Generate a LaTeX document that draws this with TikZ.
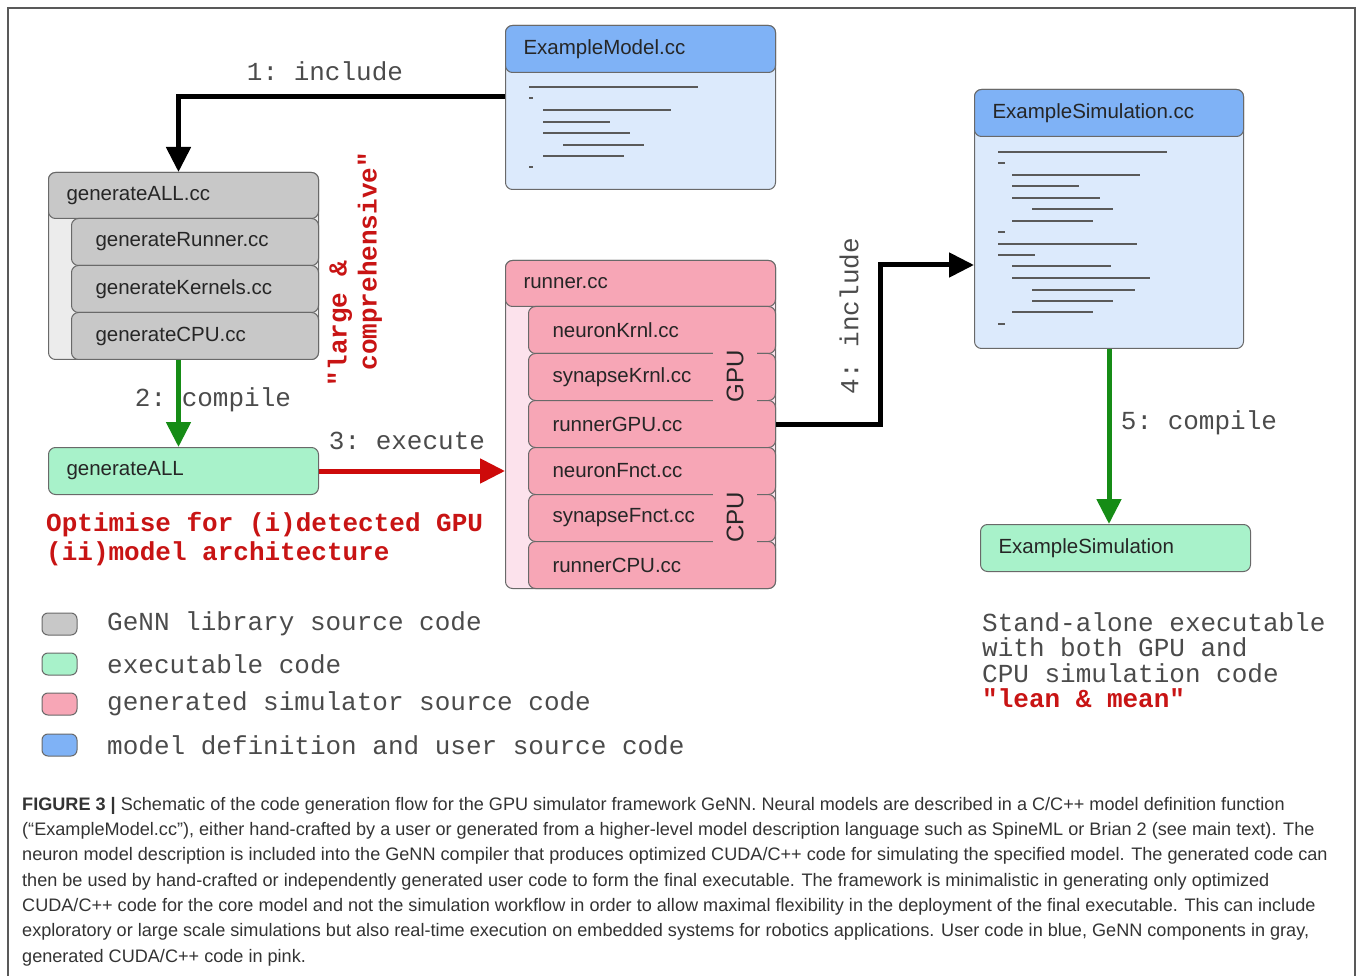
\documentclass[tikz,border=0pt]{standalone}
\usepackage{fontspec}
\setmainfont{Liberation Sans}
\setmonofont{Liberation Mono}
\usetikzlibrary{arrows.meta}

\definecolor{blueHead}{RGB}{127,178,246}
\definecolor{blueBody}{RGB}{220,234,252}
\definecolor{grayHead}{RGB}{200,200,200}
\definecolor{grayBody}{RGB}{236,236,236}
\definecolor{pinkHead}{RGB}{247,166,182}
\definecolor{pinkBody}{RGB}{252,226,236}
\definecolor{mintBox}{RGB}{168,242,202}
\definecolor{edgeGray}{RGB}{105,105,105}
\definecolor{codeGray}{RGB}{90,90,90}
\definecolor{arrowGreen}{RGB}{22,140,22}
\definecolor{arrowRed}{RGB}{205,10,10}
\definecolor{textRed}{RGB}{200,20,20}
\definecolor{monoGray}{RGB}{75,75,75}

\newcommand{\boxfont}{\fontsize{20.5}{24}\selectfont}
\newcommand{\monofont}{\fontsize{26}{26}\selectfont\ttfamily}
\newcommand{\capfont}{\fontsize{18.1}{25.3}\selectfont}

\begin{document}
\begin{tikzpicture}[x=1pt, y=-1pt,
    filebox/.style={draw=edgeGray, line width=1pt, rounded corners=7pt, anchor=north west,
        inner ysep=0pt, minimum height=47pt, align=left, font=\boxfont, text=black!85},
    headbox/.style={filebox, inner xsep=18pt, text width=234pt},
    subbox/.style={filebox, inner xsep=24pt, text width=199pt},
    bodybox/.style={draw=edgeGray, line width=1pt, rounded corners=7pt, anchor=north west,
        inner sep=0pt, minimum width=270pt},
    codeline/.style={codeGray, line width=2.8pt},
    flow/.style={line width=5pt, -{Triangle[length=25pt,width=24pt]}},
    steplabel/.style={font=\monofont, text=monoGray},
    sidelabel/.style={font=\fontsize{24}{24}\selectfont, text=black!85, fill=pinkHead,
        inner xsep=2pt, inner ysep=0pt, minimum height=44pt, rotate=90},
    legbox/.style={draw=edgeGray, line width=1pt, rounded corners=6pt, minimum width=35pt,
        minimum height=22pt, inner sep=0pt}]

    \useasboundingbox (0,0) rectangle (1358,976);

    % figure frame
    \draw[gray!70!black, line width=1.2pt] (8,976) -- (8,8) -- (1355,8) -- (1355,976);

    % model definition file
    \node[bodybox, fill=blueBody, minimum height=164pt] (modelfile) at (505,25) {};
    \node[headbox, fill=blueHead] (modelhead) at (505,25) {ExampleModel.cc};
    \foreach \xa/\xb/\yy in {529/698/87, 529/533/98, 543/671/110, 543/610/122,
                             543/630/133, 563/644/145, 543/624/156, 529/533/167} {
        \draw[codeline] (\xa,\yy) -- (\xb,\yy);
    }

    % user simulation file
    \node[bodybox, fill=blueBody, minimum width=269pt, minimum height=259pt] (simfile) at (974,89) {};
    \node[headbox, fill=blueHead, text width=233pt] (simhead) at (974,89) {ExampleSimulation.cc};
    \foreach \xa/\xb/\yy in {998/1167/152, 998/1005/163, 1012/1140/175, 1012/1079/186,
                             1012/1100/198, 1032/1113/209, 1012/1093/221, 998/1005/232,
                             998/1137/244, 998/1035/255, 1012/1111/266, 1012/1150/278,
                             1032/1135/290, 1032/1113/301, 1012/1093/312, 998/1005/324} {
        \draw[codeline] (\xa,\yy) -- (\xb,\yy);
    }

    % GeNN generator sources
    \node[bodybox, fill=grayBody, minimum height=187pt] (genall) at (48,172) {};
    \node[headbox, fill=grayHead, minimum height=46pt] (genhead) at (48,172) {generateALL.cc};
    \node[subbox, fill=grayHead] (genrunner) at (71,218) {generateRunner.cc};
    \node[subbox, fill=grayHead] (genkernels) at (71,265) {generateKernels.cc};
    \node[subbox, fill=grayHead] (gencpu) at (71,312) {generateCPU.cc};

    % compiled generator
    \node[headbox, fill=mintBox] (genexe) at (48,447) {generateALL};

    % generated runner sources
    \node[bodybox, fill=pinkBody, minimum height=328pt] (runner) at (505,260) {};
    \node[headbox, fill=pinkHead, minimum height=46pt] (runnerhead) at (505,260) {runner.cc};
    \node[subbox, fill=pinkHead] (nkrnl) at (528,306) {neuronKrnl.cc};
    \node[subbox, fill=pinkHead] (skrnl) at (528,353) {synapseKrnl.cc};
    \node[subbox, fill=pinkHead] (rgpu) at (528,400) {runnerGPU.cc};
    \node[subbox, fill=pinkHead] (nfnct) at (528,447) {neuronFnct.cc};
    \node[subbox, fill=pinkHead] (sfnct) at (528,494) {synapseFnct.cc};
    \node[subbox, fill=pinkHead] (rcpu) at (528,541) {runnerCPU.cc};
    \node[sidelabel] (gpulabel) at (735,376) {GPU};
    \node[sidelabel] (cpulabel) at (735,517) {CPU};

    % final executable
    \node[headbox, fill=mintBox] (simexe) at (980,524) {ExampleSimulation};

    % flow arrows
    \draw[flow, black] (modelhead.south west) ++(0,24) -| ([xshift=-5pt]genhead.north);
    \draw[flow, arrowGreen] ([xshift=-5pt]genall.south) -- ([xshift=-5pt]genexe.north);
    \draw[flow, arrowRed] (genexe.east) -- (genexe.east -| runner.west);
    \coordinate (bend4) at (880,265);
    \draw[flow, black] (rgpu.east) -| (bend4) -- (simfile.west |- bend4);
    \draw[flow, arrowGreen] (simfile.south) -- (simfile.south |- simexe.north);

    % step labels
    \node[steplabel] (lbl1) at (325,71) {1: include};
    \node[steplabel] (lbl2) at (213,400) {2: compile};
    \node[steplabel] (lbl3) at (407,441) {3: execute};
    \node[steplabel, rotate=90] (lbl4) at (849,316) {4: include};
    \node[steplabel] (lbl5) at (1199,423) {5: compile};

    % remarks
    \node[font=\fontsize{26}{30}\selectfont\ttfamily\bfseries, text=textRed, align=left,
        rotate=90, inner sep=0pt] (bignote) at (355,269)
        {"large \&\\\phantom{x}comprehensive"};
    \node[font=\fontsize{26}{29}\selectfont\ttfamily\bfseries, text=textRed, align=left,
        anchor=north west, inner sep=0pt] (optnote) at (46,512)
        {Optimise for (i)detected GPU\\(ii)model architecture};
    \node[font=\fontsize{26}{25.5}\selectfont\ttfamily, text=monoGray, align=left,
        anchor=north west, inner sep=0pt] (exenote) at (982,612)
        {Stand-alone executable\\with both GPU and\\CPU simulation code\\
         \textcolor{textRed}{\bfseries "lean \& mean"}};

    % legend
    \foreach \c/\t/\yy [count=\i] in {grayHead/GeNN library source code/624,
                                      mintBox/executable code/664,
                                      pinkHead/generated simulator source code/704,
                                      blueHead/model definition and user source code/745} {
        \node[legbox, fill=\c] (legsq\i) at (59.5,\yy) {};
        \node[steplabel, anchor=west, inner sep=0pt] (legtx\i) at (107,\yy) {\t};
    }

    % caption
    \node[anchor=north west, inner sep=0pt, align=left, font=\capfont, text=black!80] (caption) at (22,797)
        {\textbf{FIGURE 3 |} Schematic of the code generation flow for the GPU simulator framework GeNN. Neural models are described in a C/C++ model definition function\\
         (“ExampleModel.cc”), either hand-crafted by a user or generated from a higher-level model description language such as SpineML or Brian 2 (see main text). The\\
         neuron model description is included into the GeNN compiler that produces optimized CUDA/C++ code for simulating the specified model. The generated code can\\
         then be used by hand-crafted or independently generated user code to form the final executable. The framework is minimalistic in generating only optimized\\
         CUDA/C++ code for the core model and not the simulation workflow in order to allow maximal flexibility in the deployment of the final executable. This can include\\
         exploratory or large scale simulations but also real-time execution on embedded systems for robotics applications. User code in blue, GeNN components in gray,\\
         generated CUDA/C++ code in pink.};

\end{tikzpicture}
\end{document}
